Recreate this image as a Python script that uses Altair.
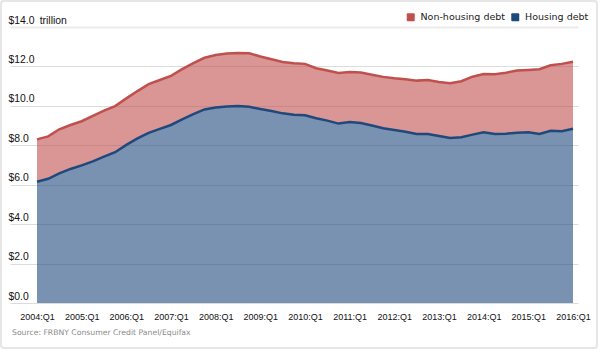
import json
import altair as alt
import pandas as pd

# ---------------- data ----------------
tick_labels = ["2004:Q1", "2005:Q1", "2006:Q1", "2007:Q1", "2008:Q1", "2009:Q1",
               "2010:Q1", "2011:Q1", "2012:Q1", "2013:Q1", "2014:Q1", "2015:Q1", "2016:Q1"]
quarter_index = list(range(49))  # 2004:Q1 ... 2016:Q1

housing = [6.15, 6.30, 6.58, 6.80, 6.98, 7.18, 7.42, 7.65, 8.02, 8.35, 8.63, 8.83,
           9.03, 9.32, 9.58, 9.82, 9.92, 9.97, 9.99, 9.95, 9.84, 9.74, 9.62, 9.55,
           9.52, 9.37, 9.25, 9.10, 9.18, 9.13, 9.00, 8.86, 8.78, 8.69, 8.57, 8.57,
           8.47, 8.37, 8.41, 8.54, 8.66, 8.57, 8.59, 8.63, 8.66, 8.57, 8.74, 8.71, 8.84]
total = [8.30, 8.45, 8.81, 9.03, 9.22, 9.49, 9.76, 9.99, 10.38, 10.75, 11.10, 11.31,
         11.52, 11.86, 12.17, 12.44, 12.58, 12.65, 12.68, 12.67, 12.50, 12.36, 12.23, 12.16,
         12.13, 11.91, 11.79, 11.67, 11.72, 11.69, 11.58, 11.47, 11.40, 11.35, 11.28, 11.31,
         11.21, 11.15, 11.25, 11.48, 11.62, 11.60, 11.68, 11.79, 11.82, 11.86, 12.06, 12.13, 12.24]

series_names = ["Non-housing debt", "Housing debt"]
series_colors = ["#C0504D", "#1F497D"]
y_ticks = [0, 2, 4, 6, 8, 10, 12, 14]
unit_label = "trillion"
source_note = "Source: FRBNY Consumer Credit Panel/Equifax"

# ---------------- tables ----------------
wide = pd.DataFrame({"q": quarter_index, "housing": housing, "total": total})
areas = pd.concat([
    pd.DataFrame({"q": quarter_index, "series": series_names[0], "top": total, "bottom": housing}),
    pd.DataFrame({"q": quarter_index, "series": series_names[1], "top": housing,
                  "bottom": [0.0] * len(housing)}),
], ignore_index=True)
note = pd.DataFrame({"text": [source_note]})

# ---------------- scales & axes ----------------
px_per_q = 536 / 48
x_scale = alt.Scale(domain=[-27 / px_per_q, 48 + 5 / px_per_q], nice=False, zero=False)
y_scale = alt.Scale(domain=[0, 14], nice=False, zero=True)

x_axis = alt.Axis(
    values=list(range(0, 49, 4)),
    labelExpr=f"{json.dumps(tick_labels)}[round(datum.value / 4)]",
    grid=False, domain=False, ticks=False, tickSize=0, labelPadding=9,
    labelFont="Liberation Sans", labelFontSize=9, labelColor="#111111",
    labelFlush=False, labelOverlap=False, title=None,
)
y_axis = alt.Axis(
    values=y_ticks,
    labelExpr=f"datum.value == 14 ? '$14.0\u2002{unit_label}' : '$' + format(datum.value, '.1f')",
    grid=True,
    gridColor={"condition": {"test": "datum.value === 14", "value": "#ebebeb"}, "value": "#dcdcdc"},
    gridWidth={"condition": {"test": "datum.value === 14", "value": 2}, "value": 1},
    domain=False, ticks=False, tickSize=0, labelPadding=2, labelAlign="left",
    labelBaseline="alphabetic", labelOffset=-4,
    labelFont="Liberation Sans", labelFontSize=10.4, labelColor="#111111", title=None,
)

X = alt.X("q:Q", scale=x_scale, axis=x_axis)

rounded_square = ("M-0.75,-1L0.75,-1Q1,-1 1,-0.75L1,0.75Q1,1 0.75,1L-0.75,1"
                  "Q-1,1 -1,0.75L-1,-0.75Q-1,-1 -0.75,-1Z")

area_layer = alt.Chart(areas).mark_area(opacity=0.6).encode(
    x=X,
    y=alt.Y("top:Q", scale=y_scale, axis=y_axis),
    y2="bottom:Q",
    color=alt.Color(
        "series:N",
        scale=alt.Scale(domain=series_names, range=series_colors),
        legend=alt.Legend(
            orient="none", legendX=396, legendY=-15, direction="horizontal", title=None,
            symbolType=rounded_square, symbolSize=64, symbolOpacity=1, symbolStrokeWidth=0,
            labelFont="DejaVu Sans", labelFontSize=9.5, labelColor="#222222",
            labelOffset=5, columnPadding=4.5, padding=0,
        ),
    ),
)

total_line = alt.Chart(wide).mark_line(color=series_colors[0], strokeWidth=2.5).encode(
    x=X, y=alt.Y("total:Q", scale=y_scale, axis=y_axis)
)
housing_line = alt.Chart(wide).mark_line(color=series_colors[1], strokeWidth=2.5).encode(
    x=X, y=alt.Y("housing:Q", scale=y_scale, axis=y_axis)
)

source_text = alt.Chart(note).mark_text(
    align="left", baseline="middle", font="DejaVu Sans", fontSize=7.7, color="#8a8a8a"
).encode(x=alt.value(2), y=alt.value(306), text="text:N")

frame = alt.Chart(note).mark_rect(
    fill="transparent", stroke="#e6e6e6", strokeWidth=2, cornerRadius=3
).encode(x=alt.value(-9), x2=alt.value(587), y=alt.value(-26), y2=alt.value(321))

chart = alt.layer(area_layer, total_line, housing_line, source_text, frame).properties(
    width=568, height=276,
    autosize=alt.AutoSizeParams(type="none"),
    padding={"left": 10, "top": 27, "right": 20, "bottom": 47},
    background="white",
).configure_view(stroke=None)

chart.save("out.html", embed_options={"renderer": "svg", "actions": False})
